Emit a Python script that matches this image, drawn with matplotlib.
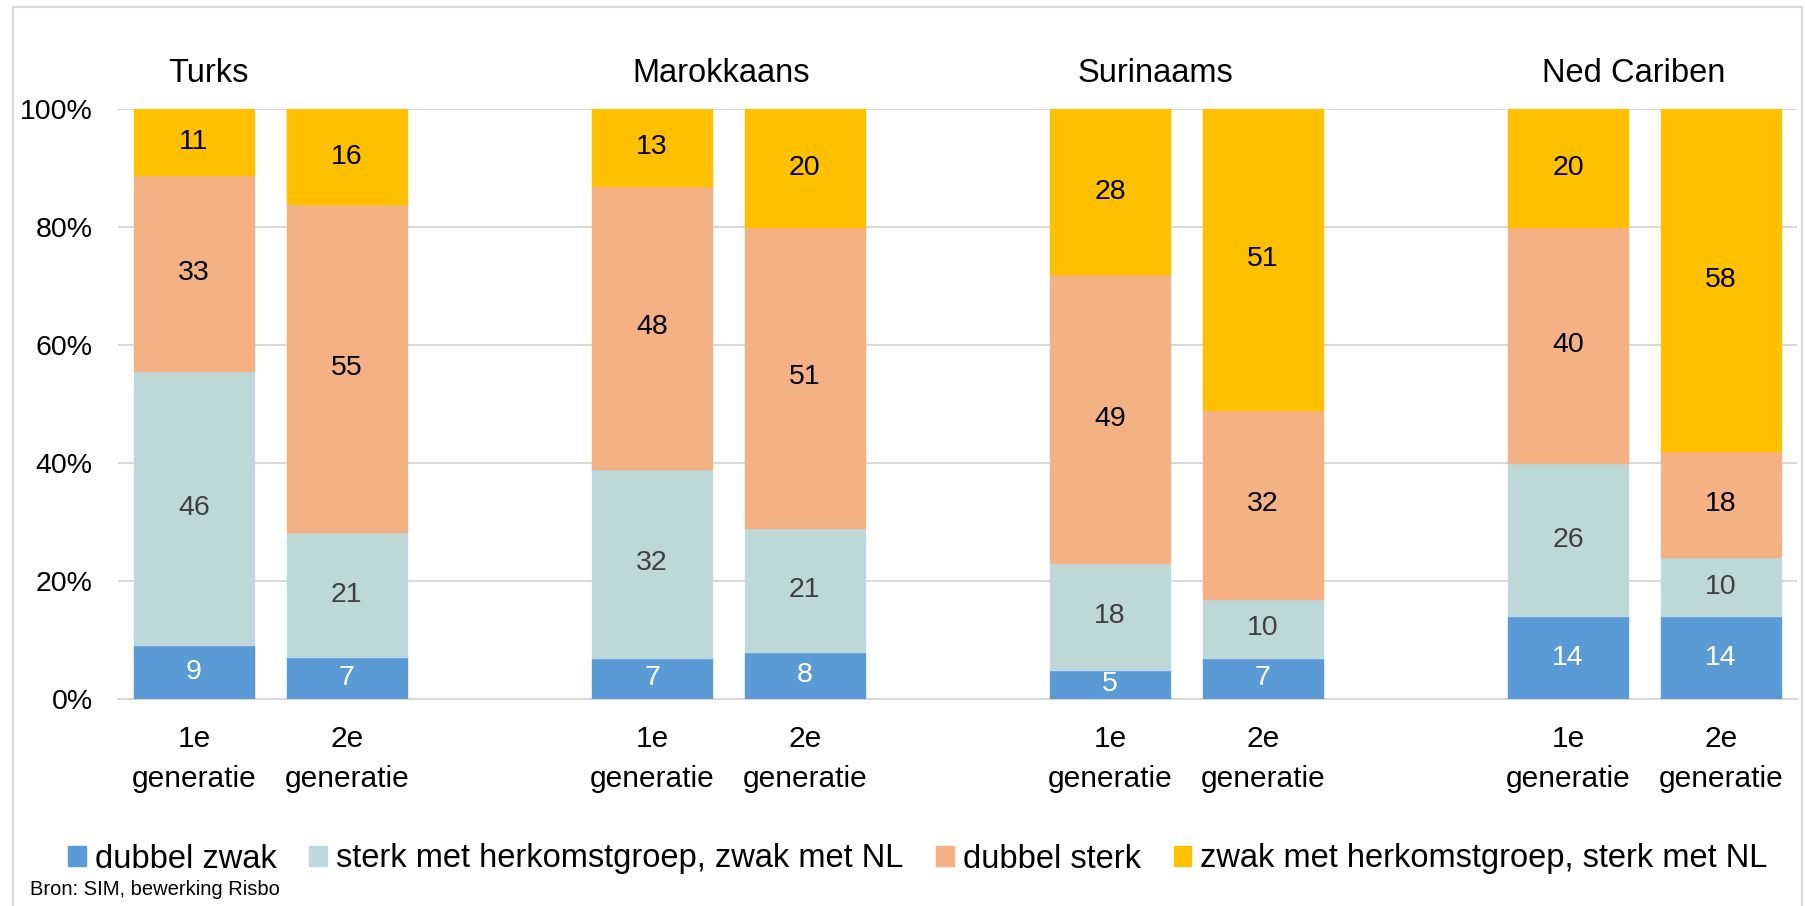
import numpy as np
import matplotlib
matplotlib.use("Agg")
import matplotlib.pyplot as plt
from matplotlib import transforms
from matplotlib.patches import Rectangle, Patch
from matplotlib.ticker import PercentFormatter

plt.rcParams['font.family'] = ['Liberation Sans', 'DejaVu Sans']

# Groups and generations
groups = ["Turks", "Marokkaans", "Surinaams", "Ned Cariben"]
generations = ["1e\ngeneratie", "2e\ngeneratie"]

# Series (percentages per bar, order: Turks 1e, Turks 2e, Marokkaans 1e, ...)
series_names = [
    "dubbel zwak",
    "sterk met herkomstgroep, zwak met NL",
    "dubbel sterk",
    "zwak met herkomstgroep, sterk met NL",
]
dubbel_zwak = [9, 7, 7, 8, 5, 7, 14, 14]
sterk_herkomst = [46, 21, 32, 21, 18, 10, 26, 10]
dubbel_sterk = [33, 55, 48, 51, 49, 32, 40, 18]
zwak_herkomst = [11, 16, 13, 20, 28, 51, 20, 58]

colors = ["#5B9BD5", "#BDD8D5", "#F4B183", "#FFC000"]
edge_colors = ["#5B9BD5", "#BDD7EE", "#F4B183", "#FFC000"]
label_colors = ["white", "#404040", "black", "black"]

W, H = 1805, 906
fig = plt.figure(figsize=(W / 100, H / 100), dpi=100)

# Outer chart frame
fig.patches.append(Rectangle((13 / W, -0.05), (1802 - 13) / W, 1.05 - 7 / H,
                             transform=fig.transFigure, fill=False,
                             edgecolor="#D9D9D9", linewidth=1.6))

ax = fig.add_axes([117.7 / W, 1 - 699 / H, 1679.3 / W, 590 / H])

# Bar slots: two per group with an empty slot between groups
positions = []
for g in range(len(groups)):
    positions += [3 * g, 3 * g + 1]
positions = np.array(positions, dtype=float)

data = np.array([dubbel_zwak, sterk_herkomst, dubbel_sterk, zwak_herkomst], dtype=float)
totals = data.sum(axis=0)
shares = data / totals

bar_w = 0.786
bottom = np.zeros(len(positions))
for i, name in enumerate(series_names):
    ax.bar(positions, shares[i], bar_w, bottom=bottom, color=colors[i],
           edgecolor=edge_colors[i], linewidth=1.0, label=name, zorder=3)
    for x, b, s, v in zip(positions, bottom, shares[i], data[i]):
        ax.text(x, b + s / 2, f"{int(v)}", ha="center", va="center",
                fontsize=20.5, color=label_colors[i], zorder=4)
    bottom += shares[i]

ax.set_xlim(-0.5, 10.5)
ax.set_ylim(0, 1)
ax.set_yticks(np.arange(0, 1.01, 0.2))
ax.yaxis.set_major_formatter(PercentFormatter(1.0, decimals=0))
ax.set_xticks(positions)
ax.set_xticklabels(generations * len(groups), fontsize=21.5, linespacing=1.55)
ax.tick_params(axis="y", length=0, pad=18, labelsize=20.5)
ax.tick_params(axis="x", length=0, pad=19)
ax.grid(axis="y", color="#D9D9D9", linewidth=1.5, zorder=0)
ax.set_axisbelow(True)
for side in ["left", "right", "top"]:
    ax.spines[side].set_visible(False)
ax.spines["bottom"].set_color("#D9D9D9")
ax.spines["bottom"].set_linewidth(1.5)

# Group titles
title_x = [0.092, 3.45, 6.30, 9.43]
blend = transforms.blended_transform_factory(ax.transData, fig.transFigure)
for tx, name in zip(title_x, groups):
    ax.text(tx, 1 - 82 / H, name, transform=blend, ha="center", va="baseline",
            fontsize=23.5)

# Legend
handles = [Patch(facecolor=colors[i], edgecolor=edge_colors[i]) for i in range(4)]
fig.legend(handles, series_names, ncol=4, loc="center",
           bbox_to_anchor=(918 / W, 1 - 859 / H), frameon=False,
           fontsize=23.5, handlelength=0.54, handleheight=0.54,
           handletextpad=0.28, columnspacing=1.0, borderaxespad=0, borderpad=0)

fig.text(30 / W, 1 - 895 / H, "Bron: SIM, bewerking Risbo", fontsize=14.5,
         va="baseline", ha="left")

fig.savefig("out.png", dpi=100)
